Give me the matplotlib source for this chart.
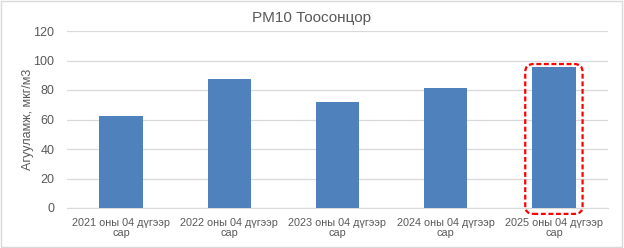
import matplotlib
matplotlib.use("Agg")
import matplotlib.pyplot as plt
from matplotlib.patches import FancyBboxPatch, Rectangle

categories = ["2021 оны 04 дүгээр\nсар", "2022 оны 04 дүгээр\nсар", "2023 оны 04 дүгээр\nсар",
              "2024 оны 04 дүгээр\nсар", "2025 оны 04 дүгээр\nсар"]
values = [62.5, 87.5, 72, 81.5, 95.6]
yticks = [0, 20, 40, 60, 80, 100, 120]
highlight = 4

plt.rcParams['font.family'] = ['Liberation Sans', 'DejaVu Sans']
text_color = "#595959"

fig = plt.figure(figsize=(6.24, 2.48), dpi=100)
ax = fig.add_axes([67 / 624, 1 - 208 / 248, 541 / 624, 177 / 248])

x = list(range(len(categories)))
ax.bar(x, values, width=0.4, color="#4f81bd", zorder=3)
ax.set_xlim(-0.5, len(categories) - 0.5)
ax.set_ylim(0, 120)
ax.set_yticks(yticks)
ax.set_xticks(x)
ax.set_xticklabels(categories, fontsize=7.8, color=text_color, linespacing=1.0)
ax.tick_params(axis="y", labelsize=9, labelcolor=text_color, length=0, pad=9)
ax.tick_params(axis="x", length=0, pad=7)
ax.grid(axis="y", color="#d9d9d9", linewidth=0.9, zorder=0)
for s in ["top", "right", "left"]:
    ax.spines[s].set_visible(False)
ax.spines["bottom"].set_color("#d9d9d9")

ax.set_ylabel("Агууламж, мкг/м3", fontsize=9, color=text_color, labelpad=0)
fig.text(0.5, 1 - 18 / 248, "PM10 Тоосонцор", ha="center", va="center",
         fontsize=11, color=text_color)

# red dashed highlight around the last bar
hx = highlight - 0.265
box = FancyBboxPatch((hx, -4), 0.53, values[highlight] + 6,
                     boxstyle="round,pad=0,rounding_size=0.075",
                     mutation_aspect=72,
                     fill=False, edgecolor="#ff0000", linestyle=(0, (2.2, 1.2)),
                     linewidth=1.6, clip_on=False, zorder=4)
ax.add_patch(box)

fig.patches.append(Rectangle((0.002, 0.004), 0.995, 0.99, transform=fig.transFigure,
                             fill=False, edgecolor="#d9d9d9", linewidth=1))

fig.savefig("out.png", dpi=100)
